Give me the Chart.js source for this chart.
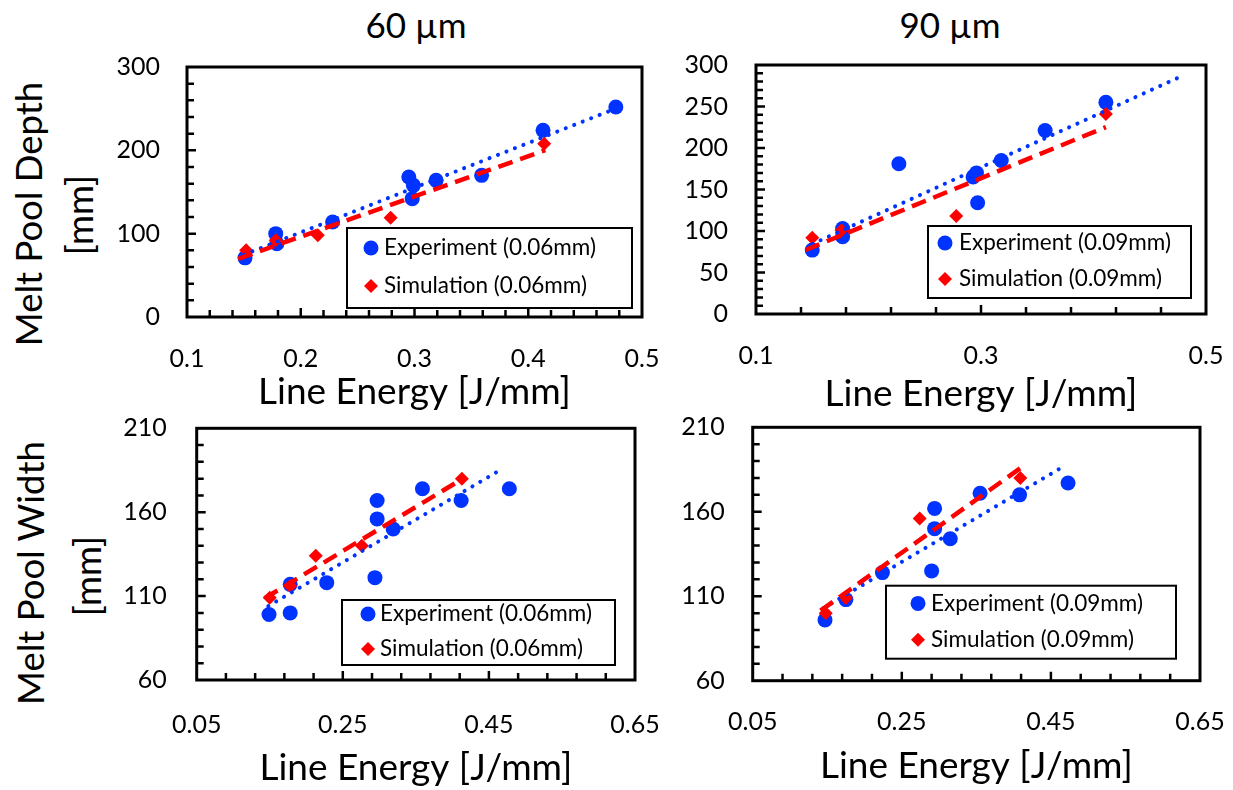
<!DOCTYPE html>
<html>
<head>
<meta charset="utf-8">
<title>Melt pool depth and width vs line energy</title>
<script src="https://cdn.jsdelivr.net/npm/chart.js@4.4.1/dist/chart.umd.min.js"></script>
<style>
  html, body { margin: 0; padding: 0; background: #fff; }
  body { width: 1233px; height: 790px; position: relative; overflow: hidden; font-family: Lato, sans-serif; color: #000; }
  canvas { position: absolute; }
  .lbl { position: absolute; white-space: nowrap; line-height: 1; transform: translate(-50%, -50%); }
  .rot { transform: translate(-50%, -50%) rotate(-90deg); }
</style>
</head>
<body>
<div class="lbl" style="left:416px; top:24px; font-size:35px;">60 µm</div>
<div class="lbl" style="left:950px; top:24px; font-size:35px;">90 µm</div>
<div class="lbl rot" style="left:28px; top:214px; font-size:36.5px;">Melt Pool Depth</div>
<div class="lbl rot" style="left:79px; top:215px; font-size:36.5px;">[mm]</div>
<div class="lbl rot" style="left:30px; top:573px; font-size:36.5px;">Melt Pool Width</div>
<div class="lbl rot" style="left:87px; top:576px; font-size:36.5px;">[mm]</div>

<canvas id="depth60" width="660" height="420" style="left:0; top:0;"></canvas>
<canvas id="depth90" width="573" height="420" style="left:660px; top:0;"></canvas>
<canvas id="width60" width="660" height="390" style="left:0; top:400px;"></canvas>
<canvas id="width90" width="573" height="390" style="left:660px; top:400px;"></canvas>

<script>
// ---- Melt pool depth, 60 µm layer ----
const energyDepth60Exp = [0.151, 0.178, 0.179, 0.228, 0.295, 0.299, 0.298, 0.319, 0.359, 0.413, 0.477];
const depth60Exp       = [71, 100, 88, 114, 168, 158, 142, 164, 170, 224, 252];
const energyDepth60Sim = [0.152, 0.178, 0.215, 0.279, 0.414];
const depth60Sim       = [80, 92, 98, 119, 208];

// ---- Melt pool depth, 90 µm layer ----
const energyDepth90Exp = [0.150, 0.177, 0.177, 0.227, 0.293, 0.296, 0.297, 0.318, 0.357, 0.411];
const depth90Exp       = [77, 103, 93, 181, 165, 170, 134, 185, 221, 255];
const energyDepth90Sim = [0.150, 0.176, 0.278, 0.411];
const depth90Sim       = [92, 101, 118, 241];

// ---- Melt pool width, 60 µm layer ----
const energyWidth60Exp = [0.149, 0.178, 0.178, 0.228, 0.294, 0.297, 0.297, 0.319, 0.359, 0.412, 0.478];
const width60Exp       = [99, 100, 117, 118, 121, 167, 156, 150, 174, 167, 174];
const energyWidth60Sim = [0.150, 0.178, 0.213, 0.276, 0.413];
const width60Sim       = [109, 116, 134, 140, 180];

// ---- Melt pool width, 90 µm layer ----
const energyWidth90Exp = [0.147, 0.175, 0.224, 0.290, 0.294, 0.294, 0.315, 0.355, 0.408, 0.473];
const width90Exp       = [96, 108, 124, 125, 162, 150, 144, 171, 170, 177];
const energyWidth90Sim = [0.148, 0.175, 0.274, 0.409];
const width90Sim       = [100, 109, 156, 180];

// Energy range covered by each linear trendline
const fitSpanDepth60Exp = [0.150, 0.476], fitSpanDepth60Sim = [0.145, 0.415];
const fitSpanDepth90Exp = [0.150, 0.475], fitSpanDepth90Sim = [0.144, 0.411];
const fitSpanWidth60Exp = [0.148, 0.470], fitSpanWidth60Sim = [0.143, 0.413];
const fitSpanWidth90Exp = [0.145, 0.470], fitSpanWidth90Sim = [0.141, 0.409];

// Tick labels
const energyTicksDepth60 = [0.1, 0.2, 0.3, 0.4, 0.5];
const energyTicksDepth90 = [0.1, 0.3, 0.5];
const energyTicksWidth   = [0.05, 0.25, 0.45, 0.65];
const depthTicks60       = [0, 100, 200, 300];
const depthTicks90       = [0, 50, 100, 150, 200, 250, 300];
const widthTicks         = [60, 110, 160, 210];

const BLUE = '#0033ff';
const RED = '#ff0000';

Chart.defaults.font.family = 'Lato, sans-serif';
Chart.defaults.color = '#000';

// Least-squares straight line through a series, evaluated at the span ends
function trend(xs, ys, span) {
  const n = xs.length;
  const mx = xs.reduce((a, b) => a + b, 0) / n;
  const my = ys.reduce((a, b) => a + b, 0) / n;
  let sxy = 0, sxx = 0;
  for (let i = 0; i < n; i++) { sxy += (xs[i] - mx) * (ys[i] - my); sxx += (xs[i] - mx) ** 2; }
  const m = sxy / sxx, b = my - m * mx;
  return span.map(x => ({ x, y: m * x + b }));
}
const pts = (xs, ys) => xs.map((x, i) => ({ x, y: ys[i] }));

// Frame around the plot area with inward major/minor tick marks
function framePlugin(f) {
  return {
    id: 'frame',
    afterDatasetsDraw(chart) {
      const { ctx, chartArea: a } = chart;
      const xs = chart.scales.x, ys = chart.scales.y;
      ctx.save();
      ctx.strokeStyle = '#000';
      ctx.lineWidth = 2.5;
      ctx.beginPath();
      const marks = (scale, step, majors, draw) => {
        const n = Math.round((scale.max - scale.min) / step);
        for (let i = 1; i < n; i++) {
          const v = scale.min + i * step;
          const major = majors.some(m => Math.abs(m - v) < step / 4);
          draw(scale.getPixelForValue(v), major ? f.majorLen : f.minorLen);
        }
      };
      marks(xs, f.xMinor, f.xMajors, (p, len) => { ctx.moveTo(p, a.bottom); ctx.lineTo(p, a.bottom - len); });
      marks(ys, f.yMinor, f.yMajors, (p, len) => { ctx.moveTo(a.left, p); ctx.lineTo(a.left + len, p); });
      ctx.stroke();
      ctx.lineWidth = 3;
      ctx.strokeRect(a.left, a.top, a.right - a.left, a.bottom - a.top);
      ctx.restore();
    }
  };
}

// Boxed legend placed inside the plot area, lower right
function insetLegendPlugin(o) {
  return {
    id: 'insetLegend',
    afterDraw(chart) {
      const { ctx, chartArea: a } = chart;
      const left = a.right - o.right - o.width;
      const top = a.bottom - o.bottom - o.height;
      ctx.save();
      ctx.fillStyle = '#fff';
      ctx.fillRect(left, top, o.width, o.height);
      ctx.lineWidth = 2;
      ctx.strokeStyle = '#000';
      ctx.strokeRect(left, top, o.width, o.height);
      const entries = chart.data.datasets.filter(d => d.inLegend);
      entries.forEach((d, i) => {
        const cy = top + o.rows[i];
        ctx.fillStyle = d.backgroundColor;
        Chart.helpers.drawPoint(ctx, { pointStyle: d.pointStyle, radius: d.pointRadius, borderWidth: 0, rotation: 0 }, left + o.markerX, cy);
        ctx.fillStyle = '#000';
        ctx.font = o.font;
        ctx.textBaseline = 'middle';
        ctx.textAlign = 'left';
        ctx.fillText(d.label, left + o.textX, cy);
      });
      ctx.restore();
    }
  };
}

function makePanel(id, p) {
  const datasets = [
    { label: p.expLabel, inLegend: true, data: pts(p.expX, p.expY), pointStyle: 'circle', pointRadius: 7.5,
      backgroundColor: BLUE, borderWidth: 0, order: 4 },
    { label: p.simLabel, inLegend: true, data: pts(p.simX, p.simY), pointStyle: 'rectRot', pointRadius: 7,
      backgroundColor: RED, borderWidth: 0, order: 3 },
    { label: 'expFit', data: trend(p.expX, p.expY, p.expSpan), showLine: true, pointRadius: 0,
      borderColor: BLUE, borderWidth: 4, borderDash: [0.1, 9], borderCapStyle: 'round', order: 2 },
    { label: 'simFit', data: trend(p.simX, p.simY, p.simSpan), showLine: true, pointRadius: 0,
      borderColor: RED, borderWidth: 4.5, borderDash: [15, 8], borderCapStyle: 'butt', order: 1 }
  ];
  new Chart(document.getElementById(id), {
    type: 'scatter',
    data: { datasets },
    plugins: [framePlugin(p.frame), insetLegendPlugin(p.legend)],
    options: {
      responsive: false,
      animation: false,
      events: [],
      layout: { padding: p.padding },
      plugins: { legend: { display: false }, tooltip: { enabled: false } },
      scales: {
        x: {
          type: 'linear', min: p.xMin, max: p.xMax,
          afterBuildTicks: s => { s.ticks = p.xTicks.map(v => ({ value: v })); },
          afterFit: s => { s.height = p.xHeight; s.paddingLeft = 0; s.paddingRight = 0; },
          ticks: { callback: v => String(v), font: { size: 25 }, color: '#000', padding: p.xPad, maxRotation: 0, autoSkip: false },
          grid: { display: false, drawTicks: false, tickLength: 0 },
          border: { display: false },
          title: { display: true, text: 'Line Energy [J/mm]', color: '#000', font: { size: 37 }, padding: { top: 0, bottom: p.xTitlePad } }
        },
        y: {
          type: 'linear', min: p.yMin, max: p.yMax,
          afterBuildTicks: s => { s.ticks = p.yTicks.map(v => ({ value: v })); },
          afterFit: s => { s.width = p.yWidth; s.paddingTop = 0; s.paddingBottom = 0; },
          ticks: { callback: v => String(v), font: { size: 25 }, color: '#000', padding: p.yPad, autoSkip: false },
          grid: { display: false, drawTicks: false, tickLength: 0 },
          border: { display: false }
        }
      }
    }
  });
}

makePanel('depth60', {
  expLabel: 'Experiment (0.06mm)', simLabel: 'Simulation (0.06mm)',
  expX: energyDepth60Exp, expY: depth60Exp, simX: energyDepth60Sim, simY: depth60Sim,
  expSpan: fitSpanDepth60Exp, simSpan: fitSpanDepth60Sim,
  xMin: 0.1, xMax: 0.5, xTicks: energyTicksDepth60, yMin: 0, yMax: 300, yTicks: depthTicks60,
  padding: { left: 0, top: 67, right: 18, bottom: 0 }, yWidth: 187, xHeight: 103,
  xPad: 26.5, yPad: 27, xTitlePad: 6.2,
  frame: { xMinor: 0.02, yMinor: 20, xMajors: energyTicksDepth60, yMajors: depthTicks60, minorLen: 7, majorLen: 9 },
  legend: { right: 10, bottom: 9, width: 285, height: 80, rows: [20, 58], markerX: 24, textX: 37, font: '22.5px Lato' }
});

makePanel('depth90', {
  expLabel: 'Experiment (0.09mm)', simLabel: 'Simulation (0.09mm)',
  expX: energyDepth90Exp, expY: depth90Exp, simX: energyDepth90Sim, simY: depth90Sim,
  expSpan: fitSpanDepth90Exp, simSpan: fitSpanDepth90Sim,
  xMin: 0.1, xMax: 0.5, xTicks: energyTicksDepth90, yMin: 0, yMax: 300, yTicks: depthTicks90,
  padding: { left: 0, top: 65, right: 27, bottom: 0 }, yWidth: 96, xHeight: 106,
  xPad: 26.5, yPad: 28, xTitlePad: 3.9,
  frame: { xMinor: 0.04, yMinor: 10, xMajors: energyTicksDepth90, yMajors: depthTicks90, minorLen: 7, majorLen: 9 },
  legend: { right: 15, bottom: 16, width: 263, height: 72, rows: [17, 53], markerX: 17, textX: 31, font: '22.5px Lato' }
});

makePanel('width60', {
  expLabel: 'Experiment (0.06mm)', simLabel: 'Simulation (0.06mm)',
  expX: energyWidth60Exp, expY: width60Exp, simX: energyWidth60Sim, simY: width60Sim,
  expSpan: fitSpanWidth60Exp, simSpan: fitSpanWidth60Sim,
  xMin: 0.05, xMax: 0.65, xTicks: energyTicksWidth, yMin: 60, yMax: 210, yTicks: widthTicks,
  padding: { left: 0, top: 28.3, right: 25, bottom: 0 }, yWidth: 196.7, xHeight: 110,
  xPad: 30, yPad: 30, xTitlePad: 0,
  frame: { xMinor: 0.04, yMinor: 10, xMajors: energyTicksWidth, yMajors: widthTicks, minorLen: 7, majorLen: 9 },
  legend: { right: 20, bottom: 15, width: 273, height: 65, rows: [14, 49], markerX: 26, textX: 38, font: '22.5px Lato' }
});

makePanel('width90', {
  expLabel: 'Experiment (0.09mm)', simLabel: 'Simulation (0.09mm)',
  expX: energyWidth90Exp, expY: width90Exp, simX: energyWidth90Sim, simY: width90Sim,
  expSpan: fitSpanWidth90Exp, simSpan: fitSpanWidth90Sim,
  xMin: 0.05, xMax: 0.65, xTicks: energyTicksWidth, yMin: 60, yMax: 210, yTicks: widthTicks,
  padding: { left: 0, top: 27.3, right: 33, bottom: 0 }, yWidth: 92.7, xHeight: 109.3,
  xPad: 26.5, yPad: 28, xTitlePad: 2,
  frame: { xMinor: 0.04, yMinor: 10, xMajors: energyTicksWidth, yMajors: widthTicks, minorLen: 7, majorLen: 9 },
  legend: { right: 24, bottom: 22, width: 290, height: 73, rows: [17.7, 54], markerX: 32, textX: 45, font: '22.5px Lato' }
});
</script>
</body>
</html>
